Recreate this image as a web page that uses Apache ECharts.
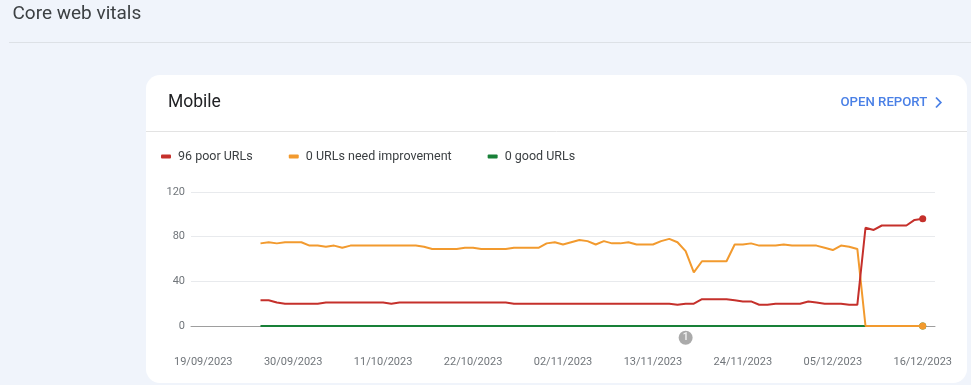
<!DOCTYPE html>
<html>
<head>
<meta charset="utf-8">
<script src="https://cdn.jsdelivr.net/npm/echarts@6/dist/echarts.min.js"></script>
<style>
html,body{margin:0;padding:0;background:#f0f4fb;}
#c{width:971px;height:385px;}
</style>
</head>
<body>
<div id="c"></div>
<script>
// ---- data ----
const axisDates = [
'18/09/2023','19/09/2023','20/09/2023','21/09/2023','22/09/2023','23/09/2023','24/09/2023','25/09/2023','26/09/2023','27/09/2023','28/09/2023','29/09/2023','30/09/2023',
'01/10/2023','02/10/2023','03/10/2023','04/10/2023','05/10/2023','06/10/2023','07/10/2023','08/10/2023','09/10/2023','10/10/2023','11/10/2023','12/10/2023','13/10/2023','14/10/2023','15/10/2023','16/10/2023','17/10/2023','18/10/2023','19/10/2023','20/10/2023','21/10/2023','22/10/2023','23/10/2023','24/10/2023','25/10/2023','26/10/2023','27/10/2023','28/10/2023','29/10/2023','30/10/2023','31/10/2023',
'01/11/2023','02/11/2023','03/11/2023','04/11/2023','05/11/2023','06/11/2023','07/11/2023','08/11/2023','09/11/2023','10/11/2023','11/11/2023','12/11/2023','13/11/2023','14/11/2023','15/11/2023','16/11/2023','17/11/2023','18/11/2023','19/11/2023','20/11/2023','21/11/2023','22/11/2023','23/11/2023','24/11/2023','25/11/2023','26/11/2023','27/11/2023','28/11/2023','29/11/2023','30/11/2023',
'01/12/2023','02/12/2023','03/12/2023','04/12/2023','05/12/2023','06/12/2023','07/12/2023','08/12/2023','09/12/2023','10/12/2023','11/12/2023','12/12/2023','13/12/2023','14/12/2023','15/12/2023','16/12/2023','17/12/2023'
];
const tickLabels = ['19/09/2023','30/09/2023','11/10/2023','22/10/2023','02/11/2023','13/11/2023','24/11/2023','05/12/2023','16/12/2023'];
const firstDataDate = '26/09/2023';
const seriesNames = ['96 poor URLs', '0 URLs need improvement', '0 good URLs'];
const poorValues = [
23,23,21,20,20,20,20,20,21,21,21,21,21,21,21,21,20,
21,21,21,21,21,21,21,21,21,21,21,21,21,21,
20,20,20,20,20,20,20,20,20,20,20,20,20,20,20,20,20,20,20,20,
19,20,20,24,24,24,24,23,22,22,19,19,20,20,20,20,22,21,20,20,20,19,19,
88,86,90,90,90,90,95,96
];
const needsImprovementValues = [
74,75,74,75,75,75,72,72,71,72,70,
72,72,72,72,72,72,72,72,72,71,
69,69,69,69,70,70,69,69,69,69,70,70,70,70,
74,75,73,75,77,76,73,76,74,74,75,73,73,73,76,78,75,
67,48,58,58,58,58,
73,73,74,72,72,72,73,72,72,72,72,70,68,72,71,69,
0,0,0,0,0,0,0,0
];
const goodValues = [
0,0,0,0,0,0,0,0,0,0,0,0,0,0,0,0,0,0,0,0,0,0,0,0,0,0,0,0,0,0,0,0,0,0,0,0,0,0,0,0,0,
0,0,0,0,0,0,0,0,0,0,0,0,0,0,0,0,0,0,0,0,0,0,0,0,0,0,0,0,0,0,0,0,0,0,0,0,0,0,0,0,0
];
const annotationDates = ['17/11/2023'];
const annotationLabels = ['1'];

// ---- build ----
const offset = axisDates.indexOf(firstDataDate);
function pad(vals){
  return axisDates.map((d,i)=>{
    const k = i - offset;
    return (k >= 0 && k < vals.length) ? vals[k] : null;
  });
}
const lastIdx = offset + poorValues.length - 1;
const endDot = (v, p) => p.dataIndex === lastIdx ? 7 : 0;

const FONT = 'Roboto, "Noto Sans", sans-serif';
const chart = echarts.init(document.getElementById('c'), null, {renderer:'canvas'});

function lineSeries(name, vals, color, z){
  return {
    name, type:'line', data: pad(vals), z,
    symbol:'circle', symbolSize:endDot, showSymbol:true,
    lineStyle:{width:2, color}, itemStyle:{color},
    emphasis:{disabled:true}, connectNulls:false, animation:false
  };
}

// annotation badge sits just below the zero line
const annotationSeries = {
  name:'annotation', type:'scatter', clip:false, z:5, silent:true,
  symbol:'circle', symbolSize:14,
  itemStyle:{color:'#959595'},
  label:{show:true, position:'inside', formatter:(p)=>annotationLabels[p.dataIndex],
         color:'#fff', fontSize:10, fontWeight:'bold', fontFamily:FONT},
  data: annotationDates.map(d=>[d,-10.5])
};

chart.setOption({
  backgroundColor:'#f0f4fb',
  animation:false,
  textStyle:{fontFamily:FONT},
  grid:{left:191, right:36, top:192, bottom:59},
  legend:{
    data: seriesNames, left:161, top:150, padding:0, icon:'roundRect',
    itemWidth:10, itemHeight:4, itemGap:36, selectedMode:false,
    textStyle:{fontSize:12.5, color:'#3c4043', fontFamily:FONT, padding:[0,0,0,2]}
  },
  xAxis:{
    type:'category', data:axisDates, boundaryGap:true,
    axisLine:{lineStyle:{color:'#9e9e9e', width:1}},
    axisTick:{show:false},
    splitLine:{show:false},
    axisLabel:{
      interval:(idx,val)=>tickLabels.includes(val),
      color:'#70757a', fontSize:11, fontFamily:FONT, margin:31, hideOverlap:false
    }
  },
  yAxis:{
    type:'value', min:0, max:120, interval:40,
    axisLine:{show:false}, axisTick:{show:false},
    axisLabel:{color:'#70757a', fontSize:11, fontFamily:FONT, margin:6},
    splitLine:{lineStyle:{color:'#e8eaed', width:1}}
  },
  series:[
    lineSeries(seriesNames[2], goodValues, '#188038', 2),
    lineSeries(seriesNames[1], needsImprovementValues, '#f29a2e', 3),
    lineSeries(seriesNames[0], poorValues, '#c5302b', 4),
    annotationSeries
  ],
  graphic:[
    {type:'text', x:12.5, y:14.5, z:10, style:{text:'Core web vitals', fontSize:19, fontFamily:FONT, fill:'#3c4043', verticalAlign:'middle'}},
    {type:'line', z:1, shape:{x1:9, y1:42.5, x2:971, y2:42.5}, style:{stroke:'#dde1e6', lineWidth:1}},
    {type:'rect', z:-10, shape:{x:146, y:75, width:821, height:308, r:14}, style:{fill:'#ffffff'}},
    {type:'line', z:1, shape:{x1:146, y1:131.5, x2:967, y2:131.5}, style:{stroke:'#e3e3e3', lineWidth:1}},
    {type:'text', x:168, y:103, z:10, style:{text:'Mobile', fontSize:17.5, fontFamily:FONT, fill:'#202124', verticalAlign:'middle'}},
    {type:'text', x:840.5, y:103, z:10, style:{text:'OPEN REPORT', fontSize:13.2, fontWeight:500, fontFamily:FONT, fill:'#4a80e6', verticalAlign:'middle'}},
    {type:'polyline', z:10, shape:{points:[[936,97.5],[940.8,102.5],[936,107.5]]}, style:{stroke:'#4a80e6', lineWidth:1.8, fill:null}}
  ]
});
</script>
</body>
</html>
